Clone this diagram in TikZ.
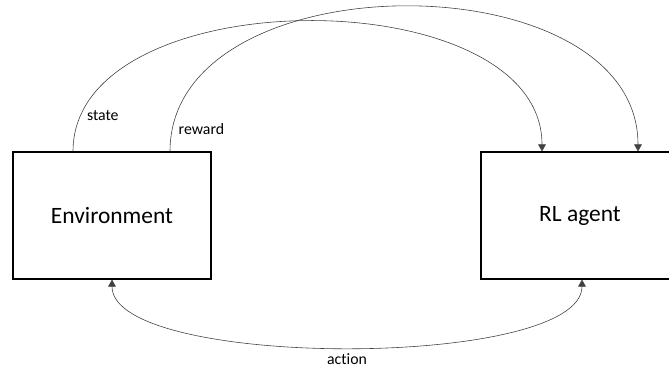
\documentclass[tikz,border=0pt]{standalone}
\usepackage{fontspec}
\setmainfont[Ligatures=NoCommon]{Carlito}
\usetikzlibrary{arrows.meta}

\tikzset{
  box/.style={draw,line width=1pt,minimum width=5.94cm,minimum height=3.81cm,font=\fontsize{20}{24}\selectfont},
  link/.style={line width=0.5pt,draw=black!75,-{Triangle[width=6.5pt,length=6pt]}},
  lbl/.style={font=\fontsize{13.5}{15}\selectfont}
}

\begin{document}
\begin{tikzpicture}
    \useasboundingbox (0,0) rectangle (20.07,-11.01);
    \node[box] (env) at (3.36,-6.465) {Environment};
    \node[box] (agent) at (17.4,-6.465) {RL agent};
    \draw[link] ([xshift=-1.17cm]env.north) .. controls +(0,5.2) and +(0,5.2) .. ([xshift=-1.14cm]agent.north) node[lbl,pos=0.075,right,xshift=2pt]{state};
    \draw[link] ([xshift=1.74cm]env.north) .. controls +(0,5.79) and +(0,5.79) .. ([xshift=1.74cm]agent.north) node[lbl,pos=0.04,right,xshift=2pt]{reward};
    \draw[link,{Triangle[width=6.5pt,length=6pt]}-{Triangle[width=6.5pt,length=6pt]}] (env.south) .. controls +(0,-2.7) and +(0,-2.7) .. ([xshift=0.06cm]agent.south) node[lbl,pos=0.5,below,yshift=-2pt]{action};
\end{tikzpicture}
\end{document}
